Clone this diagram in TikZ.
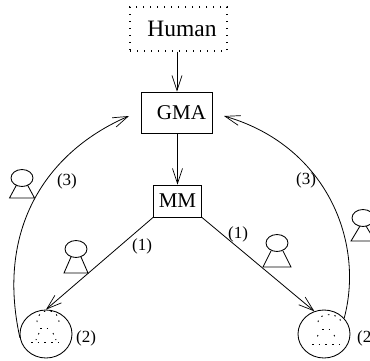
\documentclass[tikz,border=0pt]{standalone}
\usepackage{fontspec}
\setmainfont{Liberation Serif}
\usetikzlibrary{arrows.meta,shapes.geometric}
\tikzset{
  box/.style={draw,line width=0.9pt,inner sep=0pt,font=\fontsize{21}{24}\selectfont},
  humanbox/.style={draw,line width=1.1pt,inner sep=0pt,dash pattern=on 1.2pt off 5.8pt,font=\fontsize{23.5}{26}\selectfont},
  ball/.style={draw,line width=0.85pt,ellipse,inner sep=0pt,minimum width=52pt,minimum height=48pt},
  conn/.style={line width=0.8pt,-{Straight Barb[length=15pt,width=10pt,line width=0.7pt]}},
  tag/.style={inner sep=0pt,font=\fontsize{17}{19}\selectfont},
  figline/.style={line width=0.85pt},
  dots/.style={line width=0.9pt,dash pattern=on 1.5pt off 5.2pt}
}
\newcommand{\personfig}[6]{% head x, head y, base y, half base, half top, top y
  \draw[figline] (#1,#2) ellipse (11pt and 8.5pt);
  \draw[figline] (#1-#5,#6) -- (#1-#4,#3) -- (#1+#4,#3) -- (#1+#5,#6);
}
\begin{document}
\begin{tikzpicture}[x=1pt,y=-1pt]
\useasboundingbox (0,0) rectangle (370,360);
\clip (0,0) rectangle (370,360);
\node[humanbox,minimum width=97pt,minimum height=44pt] (human) at (178.5,29) {\hspace{7pt}Human};
\node[box,minimum width=71pt,minimum height=41pt] (gma) at (177,112.5) {\hspace{9pt}GMA};
\node[box,minimum width=48pt,minimum height=32pt] (mm) at (177.5,201) {MM};
\node[ball] (ballL) at (46,334) {};
\node[ball] (ballR) at (324,334) {};
\coordinate (tipL) at (129,116);
\coordinate (tipR) at (224,116);
\draw[conn] (human.south -| gma.north) -- (gma.north);
\draw[conn] (gma.south -| mm.north) -- (mm.north);
\draw[conn] (mm.south west) -- (ballL.north);
\draw[conn] (mm.south east) -- (ballR.113);
\draw[conn] (ballL.188) .. controls (-5,225) and (50,150) .. (tipL);
\draw[conn] (ballR.38) .. controls (365,240) and (325,145) .. (tipR);
\node[tag] (l3a) at (67,181) {(3)};
\node[tag] (l3b) at (306,180) {(3)};
\node[tag] (l1a) at (142,246) {(1)};
\node[tag] (l1b) at (238,234) {(1)};
\node[tag] (l2a) at (86,338) {(2)};
\node[tag] (l2b) at (367,338) {(2)};
\personfig{22}{178}{198}{12.5}{5.5}{185}
\personfig{76}{249}{273}{12}{5}{257}
\personfig{277}{243}{267}{14}{6}{251}
\personfig{363}{218}{241}{12}{3}{226}
\draw[dots] (37,322) .. controls (37,307) and (59,307) .. (59,322);
\draw[dots] (40,328) -- (52,328);
\draw[dots] (39,333) -- (36,340);
\draw[dots] (53,333) -- (56,340);
\draw[dots] (31,342) -- (58,342);
\draw[dots] (318,322) .. controls (318,312) and (341,312) .. (341,323);
\draw[dots] (322,329) -- (334,329);
\draw[dots] (318,335) -- (316,340);
\draw[dots] (334,335) -- (337,340);
\draw[dots] (312,344) -- (339,344);
\end{tikzpicture}
\end{document}
